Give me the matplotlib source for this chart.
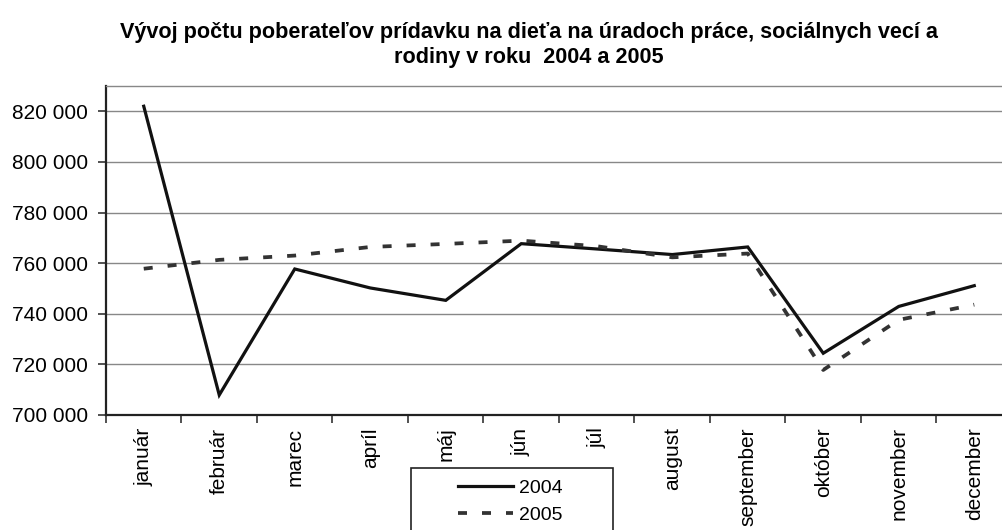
import matplotlib
matplotlib.use("Agg")
import matplotlib.pyplot as plt
from matplotlib.patches import Rectangle
from matplotlib.ticker import FuncFormatter

months = ["január", "február", "marec", "apríl", "máj", "jún", "júl",
          "august", "september", "október", "november", "december"]
v2004 = [822000, 707900, 757700, 750200, 745300, 767700, 765600,
         763400, 766400, 724400, 742900, 751100]
v2005 = [757800, 761300, 763000, 766400, 767600, 768900, 766700,
         762300, 763800, 717800, 737600, 743600]
yticks = [700000, 720000, 740000, 760000, 780000, 800000, 820000]

plt.rcParams['font.family'] = ['Liberation Sans', 'DejaVu Sans']

W, H = 1003, 530
fig = plt.figure(figsize=(W / 100, H / 100), dpi=100)
left, right, bottom, top = 106, 1012, 415, 86
ax = fig.add_axes([left / W, 1 - bottom / H, (right - left) / W, (bottom - top) / H])

x = list(range(len(months)))
l1, = ax.plot(x, v2004, color='#111111', lw=2.3, label='2004', solid_joinstyle='miter')
l2, = ax.plot(x, v2005, color='#333333', lw=2.7, ls=(0, (2.4, 4.0)), label='2005')

ax.set_xlim(-0.5, 11.5)
ax.set_ylim(700000, 830000)
ax.set_yticks(yticks)
ax.yaxis.set_major_formatter(FuncFormatter(lambda v, p: f"{int(v):,}".replace(",", " ")))
ax.grid(axis='y', color='#888888', lw=1.0)
ax.set_axisbelow(True)

ax.set_xticks([i - 0.5 for i in range(0, 12)])
ax.set_xticklabels([])
ax.set_xticks(x, minor=True)
ax.set_xticklabels(months, minor=True, rotation=90, fontsize=15, va='top')
ax.tick_params(axis='x', which='minor', length=0, pad=9)
ax.tick_params(axis='x', which='major', length=6, direction='out', color='#333333', width=1.2)
ax.tick_params(axis='y', length=6, direction='out', labelsize=15, color='#333333', pad=7, width=1.2)

ax.spines['right'].set_visible(False)
ax.spines['top'].set_color('#888888')
ax.spines['top'].set_linewidth(1.0)
for s in ['left', 'bottom']:
    ax.spines[s].set_color('#222222')
    ax.spines[s].set_linewidth(1.6)

fig.text(529 / W, 1 - 45 / H,
         "Vývoj počtu poberateľov prídavku na dieťa na úradoch práce, sociálnych vecí a\nrodiny v roku  2004 a 2005",
         ha='center', va='center', fontsize=15.6, fontweight='bold', linespacing=1.25)

# legend box (Excel-style, wider than its content)
fig.patches.append(Rectangle((411 / W, 1 - 540 / H), 202 / W, 72 / H,
                             transform=fig.transFigure, facecolor='white',
                             edgecolor='#222222', lw=1.2, zorder=5))
leg = fig.legend(handles=[l1, l2], loc='upper left',
                 bbox_to_anchor=(458 / W, 1 - 479 / H), frameon=False,
                 fontsize=14, handlelength=2.85, handletextpad=0.3,
                 borderpad=0, labelspacing=0.5, borderaxespad=0)
leg.set_zorder(6)

fig.savefig("out.png", dpi=100)
